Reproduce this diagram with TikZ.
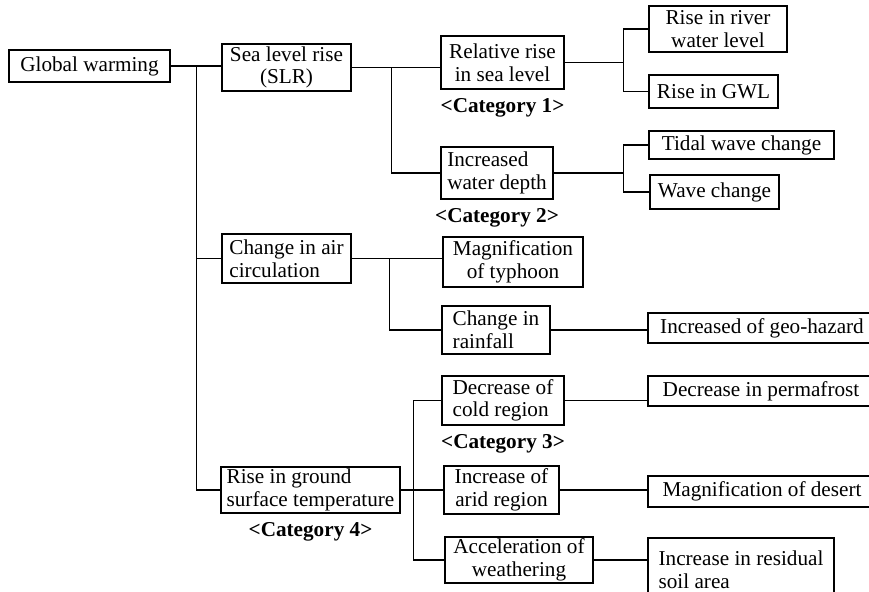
\documentclass[tikz,border=0pt]{standalone}
\usepackage{fontspec}
\setmainfont{Liberation Serif}
\usetikzlibrary{positioning}
\tikzset{
	cell/.style={draw, line width=0.7pt, inner sep=1pt, align=center,
		font=\fontsize{10.6pt}{11.3pt}\selectfont},
	cat/.style={inner sep=0pt, font=\fontsize{10.6pt}{11.3pt}\selectfont\bfseries},
	link/.style={line width=0.7pt}
}
\newcommand{\cell}[7][] % options, name, left, top, right, bottom (pixels), text
{
	\node[cell, #1, minimum width={0.5pt*(#5-#3)}, minimum height={0.5pt*(#6-#4)}]
		(#2) at ({(#3+#5)/2},{(#4+#6)/2}) {#7};
}

\begin{document}
\begin{tikzpicture}[x=0.5pt, y=-0.5pt]
	% 869 x 592 pixels
	\useasboundingbox (0,0) rectangle (869,592);
	\fill[white] (0,0) rectangle (869,592);
	
	% first level
	\cell{gw}{9}{50}{170}{82}{Global warming}
	\cell{slr}{222}{44}{351}{91}{Sea level rise\\(SLR)}
	\cell[align=left]{air}{222}{234}{351}{283}{Change in air\\circulation}
	\cell[align=left]{rgt}{221}{467}{400}{513}{Rise in ground\\surface temperature}
	
	% second level
	\cell{rrs}{441}{36}{564}{89}{Relative rise\\in sea level}
	\cell[align=left]{iwd}{441}{147}{553}{199}{Increased\\water depth}
	\cell{mty}{443}{237}{583}{287}{Magnification\\of typhoon}
	\cell[align=left]{crf}{442}{306}{550}{354}{Change in\\rainfall}
	\cell[align=left]{dcr}{442}{376}{564}{425}{Decrease of\\cold region}
	\cell{iar}{444}{466}{559}{514}{Increase of\\arid region}
	\cell{acw}{445}{537}{593}{583}{Acceleration of\\weathering}
	
	% third level
	\cell{rrw}{649}{6}{787}{52}{Rise in river\\water level}
	\cell{gwl}{649}{75}{778}{108}{Rise in GWL}
	\cell{twc}{649}{131}{834}{159}{Tidal wave change}
	\cell{wch}{650}{175}{779}{209}{Wave change}
	\cell{geo}{648}{313}{876}{343}{Increased of geo-hazard}
	\cell{prm}{648}{376}{874}{406}{Decrease in permafrost}
	\cell{des}{648}{476}{876}{507}{Magnification of desert}
	\cell[align=left]{rsa}{648}{538}{834}{602}{Increase in residual\\soil area}
	
	% categories
	\node[cat, below=4pt of rrs] (c1) {<Category 1>};
	\node[cat, below=4pt of iwd] (c2) {<Category 2>};
	\node[cat, below=4pt of dcr] (c3) {<Category 3>};
	\node[cat, below=4pt of rgt] (c4) {<Category 4>};
	
	% trunk
	\draw[link] (gw.east) -- (gw.east -| slr.west);
	\draw[link] (gw.east) ++(26,0) |- (air.west);
	\draw[link] (gw.east) ++(26,0) |- (rgt.west);
	
	% sea level rise
	\draw[link] (slr.east) -- (slr.east -| rrs.west);
	\draw[link] (slr.east) ++(40,0) |- (iwd.west);
	\draw[link] (rrs.east) ++(59,0) |- (rrw.west);
	\draw[link] (rrs.east) -- ++(59,0) |- (gwl.west);
	\draw[link] (iwd.east) ++(70,0) |- (twc.west);
	\draw[link] (iwd.east) -- ++(70,0) |- (wch.west);
	
	% air circulation
	\draw[link] (air.east) -- (air.east -| mty.west);
	\draw[link] (air.east) ++(38,0) |- (crf.west);
	\draw[link] (crf.east) -- (crf.east -| geo.west);
	
	% ground surface temperature
	\draw[link] (rgt.east) ++(13,0) |- (dcr.west);
	\draw[link] (rgt.east) -- (rgt.east -| iar.west);
	\draw[link] (rgt.east) ++(13,0) |- (acw.west);
	\draw[link] (dcr.east) -- (dcr.east -| prm.west);
	\draw[link] (iar.east) -- (iar.east -| des.west);
	\draw[link] (acw.east) -- (acw.east -| rsa.west);
	
\end{tikzpicture}
\end{document}
